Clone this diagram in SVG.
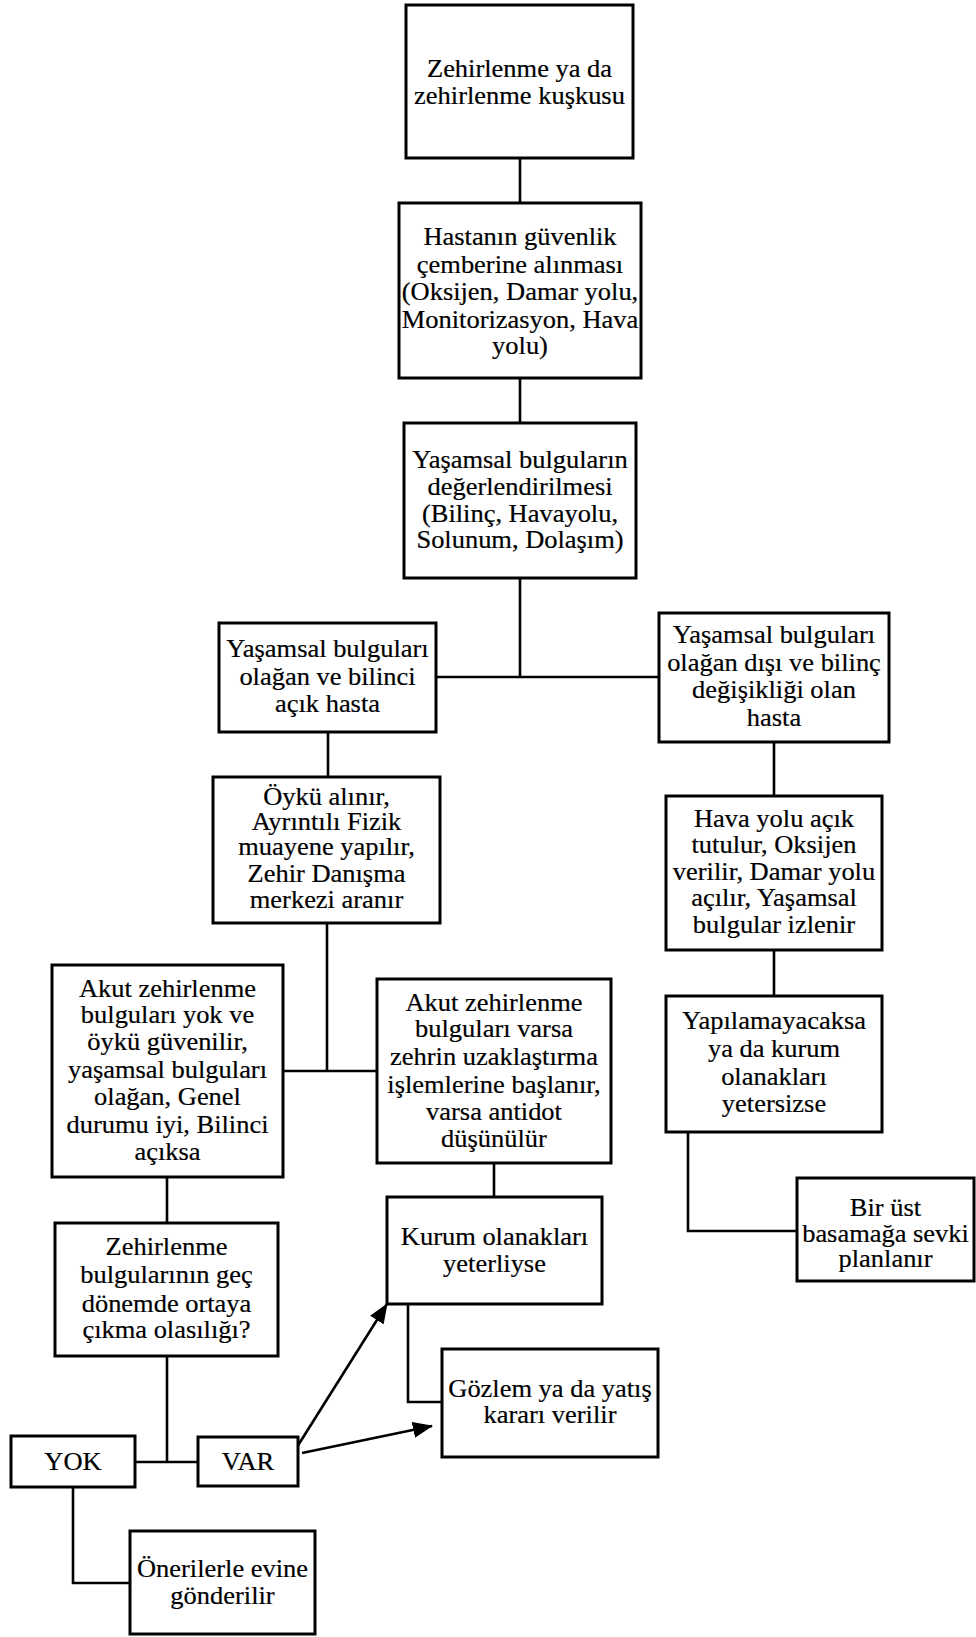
<svg xmlns="http://www.w3.org/2000/svg" width="976" height="1637" viewBox="0 0 976 1637">
<style>
.box{fill:#fff;stroke:#000;stroke-width:3}
.t{font-family:"Liberation Serif","Times New Roman",serif;font-size:24.5px;fill:#000;stroke:#000;stroke-width:0.2;text-anchor:middle}
.c{fill:none;stroke:#000;stroke-width:2.6}
</style>
<defs>
<marker id="ah" markerUnits="userSpaceOnUse" markerWidth="20" markerHeight="16" refX="19" refY="8" orient="auto">
<path d="M0,0 L20,8 L0,16 Z" fill="#000"/>
</marker>
</defs>
<rect width="976" height="1637" fill="#fff"/>
<g id="connectors">
<path class="c" d="M520,158V203"/>
<path class="c" d="M520,378V423"/>
<path class="c" d="M520,578V677"/>
<path class="c" d="M436,677H659"/>
<path class="c" d="M328,732V777"/>
<path class="c" d="M774,742V796"/>
<path class="c" d="M327,923V1071"/>
<path class="c" d="M283,1071H377"/>
<path class="c" d="M167,1177V1223"/>
<path class="c" d="M494,1163V1197"/>
<path class="c" d="M774,950V996"/>
<path class="c" d="M688,1132V1231H797"/>
<path class="c" d="M408,1304V1402H442"/>
<path class="c" d="M167,1356V1462"/>
<path class="c" d="M135,1462H198"/>
<path class="c" d="M73,1487V1583H130"/>
<path class="c" d="M297,1447L387,1304" marker-end="url(#ah)"/>
<path class="c" d="M302,1453L432,1426" marker-end="url(#ah)"/>
</g>
<g id="n1">
<rect class="box" x="406" y="5" width="227" height="153"/>
<text class="t" transform="translate(519.5 0) scale(1.08 1)"><tspan x="0" y="77">Zehirlenme ya da</tspan><tspan x="0" y="104">zehirlenme kuşkusu</tspan></text>
</g>
<g id="n2">
<rect class="box" x="399" y="203" width="242" height="175"/>
<text class="t" transform="translate(520 0) scale(1.08 1)"><tspan x="0" y="245">Hastanın güvenlik</tspan><tspan x="0" y="273">çemberine alınması</tspan><tspan x="0" y="300">(Oksijen, Damar yolu,</tspan><tspan x="0" y="328">Monitorizasyon, Hava</tspan><tspan x="0" y="354">yolu)</tspan></text>
</g>
<g id="n3">
<rect class="box" x="404" y="423" width="232" height="155"/>
<text class="t" transform="translate(520 0) scale(1.08 1)"><tspan x="0" y="468">Yaşamsal bulguların</tspan><tspan x="0" y="495">değerlendirilmesi</tspan><tspan x="0" y="522">(Bilinç, Havayolu,</tspan><tspan x="0" y="548">Solunum, Dolaşım)</tspan></text>
</g>
<g id="n4">
<rect class="box" x="219" y="623" width="217" height="109"/>
<text class="t" transform="translate(327.5 0) scale(1.08 1)"><tspan x="0" y="657">Yaşamsal bulguları</tspan><tspan x="0" y="685">olağan ve bilinci</tspan><tspan x="0" y="712">açık hasta</tspan></text>
</g>
<g id="n5">
<rect class="box" x="659" y="613" width="230" height="129"/>
<text class="t" transform="translate(774 0) scale(1.08 1)"><tspan x="0" y="643">Yaşamsal bulguları</tspan><tspan x="0" y="671">olağan dışı ve bilinç</tspan><tspan x="0" y="698">değişikliği olan</tspan><tspan x="0" y="726">hasta</tspan></text>
</g>
<g id="n6">
<rect class="box" x="213" y="777" width="227" height="146"/>
<text class="t" transform="translate(326.5 0) scale(1.08 1)"><tspan x="0" y="805">Öykü alınır,</tspan><tspan x="0" y="830">Ayrıntılı Fizik</tspan><tspan x="0" y="855">muayene yapılır,</tspan><tspan x="0" y="882">Zehir Danışma</tspan><tspan x="0" y="908">merkezi aranır</tspan></text>
</g>
<g id="n7">
<rect class="box" x="666" y="796" width="216" height="154"/>
<text class="t" transform="translate(774 0) scale(1.08 1)"><tspan x="0" y="827">Hava yolu açık</tspan><tspan x="0" y="853">tutulur, Oksijen</tspan><tspan x="0" y="880">verilir, Damar yolu</tspan><tspan x="0" y="906">açılır, Yaşamsal</tspan><tspan x="0" y="933">bulgular izlenir</tspan></text>
</g>
<g id="n8">
<rect class="box" x="52" y="965" width="231" height="212"/>
<text class="t" transform="translate(167.5 0) scale(1.08 1)"><tspan x="0" y="997">Akut zehirlenme</tspan><tspan x="0" y="1023">bulguları yok ve</tspan><tspan x="0" y="1050">öykü güvenilir,</tspan><tspan x="0" y="1078">yaşamsal bulguları</tspan><tspan x="0" y="1105">olağan, Genel</tspan><tspan x="0" y="1133">durumu iyi, Bilinci</tspan><tspan x="0" y="1160">açıksa</tspan></text>
</g>
<g id="n9">
<rect class="box" x="377" y="979" width="234" height="184"/>
<text class="t" transform="translate(494 0) scale(1.08 1)"><tspan x="0" y="1011">Akut zehirlenme</tspan><tspan x="0" y="1037">bulguları varsa</tspan><tspan x="0" y="1065">zehrin uzaklaştırma</tspan><tspan x="0" y="1093">işlemlerine başlanır,</tspan><tspan x="0" y="1120">varsa antidot</tspan><tspan x="0" y="1147">düşünülür</tspan></text>
</g>
<g id="n10">
<rect class="box" x="666" y="996" width="216" height="136"/>
<text class="t" transform="translate(774 0) scale(1.08 1)"><tspan x="0" y="1029">Yapılamayacaksa</tspan><tspan x="0" y="1057">ya da kurum</tspan><tspan x="0" y="1085">olanakları</tspan><tspan x="0" y="1112">yetersizse</tspan></text>
</g>
<g id="n11">
<rect class="box" x="387" y="1197" width="215" height="107"/>
<text class="t" transform="translate(494.5 0) scale(1.08 1)"><tspan x="0" y="1245">Kurum olanakları</tspan><tspan x="0" y="1272">yeterliyse</tspan></text>
</g>
<g id="n12">
<rect class="box" x="797" y="1178" width="177" height="103"/>
<text class="t" transform="translate(885.5 0) scale(1.08 1)"><tspan x="0" y="1216">Bir üst</tspan><tspan x="0" y="1242">basamağa sevki</tspan><tspan x="0" y="1267">planlanır</tspan></text>
</g>
<g id="n13">
<rect class="box" x="55" y="1223" width="223" height="133"/>
<text class="t" transform="translate(166.5 0) scale(1.08 1)"><tspan x="0" y="1255">Zehirlenme</tspan><tspan x="0" y="1283">bulgularının geç</tspan><tspan x="0" y="1312">dönemde ortaya</tspan><tspan x="0" y="1338">çıkma olasılığı?</tspan></text>
</g>
<g id="n14">
<rect class="box" x="442" y="1349" width="216" height="108"/>
<text class="t" transform="translate(550 0) scale(1.08 1)"><tspan x="0" y="1397">Gözlem ya da yatış</tspan><tspan x="0" y="1423">kararı verilir</tspan></text>
</g>
<g id="n15">
<rect class="box" x="11" y="1436" width="124" height="51"/>
<text class="t" transform="translate(73 0) scale(1.08 1)"><tspan x="0" y="1470">YOK</tspan></text>
</g>
<g id="n16">
<rect class="box" x="198" y="1437" width="100" height="49"/>
<text class="t" transform="translate(248 0) scale(1.08 1)"><tspan x="0" y="1470">VAR</tspan></text>
</g>
<g id="n17">
<rect class="box" x="130" y="1531" width="185" height="103"/>
<text class="t" transform="translate(222.5 0) scale(1.08 1)"><tspan x="0" y="1577">Önerilerle evine</tspan><tspan x="0" y="1604">gönderilir</tspan></text>
</g>
</svg>
